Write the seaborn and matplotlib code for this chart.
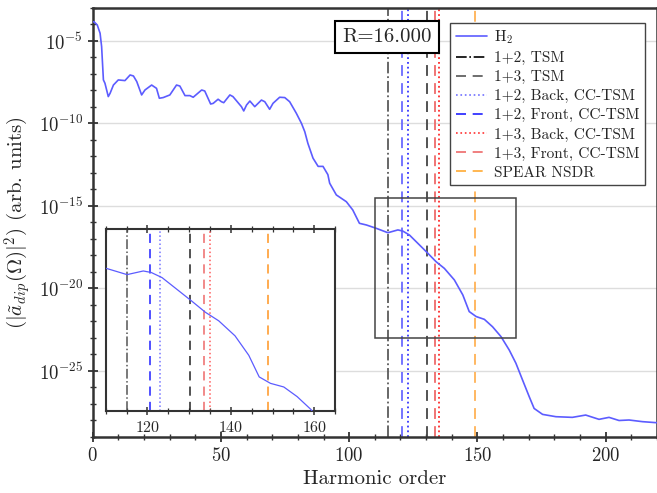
import numpy as np
import pandas as pd
import matplotlib
matplotlib.use("Agg")
import matplotlib.pyplot as plt
import seaborn as sns
from matplotlib.ticker import FixedLocator, MultipleLocator, LogFormatterMathtext, NullFormatter, NullLocator
from matplotlib.patches import Rectangle

# ---------------- data ----------------
harmonic = [0.0, 0.5, 1.8, 2.9, 3.5, 4.2, 4.8, 6.1, 6.8, 8.1, 10.0, 12.6, 14.6, 15.9, 17.2,
            19.1, 20.4, 23.0, 24.9, 26.0, 27.5, 30.1, 32.7, 34.0, 36.0, 37.9, 39.2, 42.5,
            43.7, 46.0, 47.0, 48.9, 50.2, 51.1, 53.5, 54.7, 58.0, 58.9, 60.0, 61.3, 63.2,
            65.8, 67.1, 69.0, 70.3, 72.9, 74.9, 76.8, 79.4, 81.4, 82.7, 83.9, 85.9, 87.9,
            89.8, 91.7, 92.4, 95.0, 98.9, 101.4, 104.0, 106.7, 110.5, 115.1, 119.0, 120.9,
            123.5, 127.4, 130.7, 133.9, 137.1, 141.0, 144.3, 146.8, 149.5, 152.7, 155.9,
            159.2, 162.4, 165.0, 167.6, 170.2, 172.1, 175.4, 180.6, 187.0, 192.2, 197.4,
            201.3, 205.2, 209.1, 214.3, 219.5, 220.0]
log10_intensity = [-3.85, -3.83, -4.03, -4.53, -5.34, -7.36, -7.56, -8.37, -8.17, -7.67, -7.36,
                   -7.40, -7.06, -7.12, -7.46, -8.27, -7.97, -7.67, -7.87, -8.47, -8.43, -8.27,
                   -7.67, -7.73, -8.31, -8.31, -8.41, -7.97, -8.03, -8.82, -8.78, -8.53, -8.68,
                   -8.74, -8.27, -8.37, -8.98, -9.24, -8.88, -8.64, -8.98, -8.58, -8.68, -9.14,
                   -8.78, -8.41, -8.43, -8.68, -9.38, -9.99, -10.5, -11.2, -12.1, -12.6, -12.6,
                   -13.1, -13.62, -14.33, -14.74, -15.24, -16.05, -16.15, -16.35, -16.62, -16.45,
                   -16.52, -16.76, -17.36, -17.87, -18.38, -18.78, -19.48, -20.39, -21.4, -21.7,
                   -21.87, -22.32, -22.92, -23.73, -24.53, -25.55, -26.56, -27.27, -27.63, -27.77,
                   -27.81, -27.67, -27.93, -27.81, -28.0, -27.97, -28.07, -28.13, -28.13]

line_labels = ["1+2, TSM", "1+3, TSM", "1+2, Back, CC-TSM", "1+2, Front, CC-TSM",
               "1+3, Back, CC-TSM", "1+3, Front, CC-TSM", "SPEAR NSDR"]
line_positions = [115.1, 130.2, 123.1, 120.6, 135.1, 133.5, 149.0]
line_colors = ["#5a5a5a", "#444444", "#3535ff", "#6a6aff", "#ff2a2a", "#ee6a6a", "#ffb255"]
inset_colors = ["#555555", "#222222", "#7575ff", "#2020ff", "#ff5a5a", "#ee6a6a", "#ff9420"]
legend_colors = ["black", "#555555", "#7070ff", "#2020ff", "#ff3030", "#ee6a6a", "#ffaa33"]
line_styles = ["-.", (0, (6, 4)), ":", (0, (6, 4)), ":", (0, (6, 4)), (0, (6, 4))]

df = pd.DataFrame({"harmonic": harmonic,
                   "intensity": [10.0 ** v for v in log10_intensity]})

# ---------------- style ----------------
sns.set_theme(style="white")
plt.rcParams.update({
    "font.family": "serif",
    "font.serif": ["cmr10", "DejaVu Serif"],
    "mathtext.fontset": "cm",
    "axes.formatter.use_mathtext": True,
    "axes.unicode_minus": False,
})

fig = plt.figure(figsize=(6.57, 4.93), dpi=100)
ax = fig.add_axes([0.141, 0.1136, 0.859, 0.8702])

h2_color = "#5c5cff"
sns.lineplot(data=df, x="harmonic", y="intensity", ax=ax, color=h2_color, lw=1.2,
             label="H$_2$", zorder=3)
ax.set_yscale("log")
ax.set_xlim(0, 220)
ax.set_ylim(1e-29, 1e-3)

for pos, col, ls in zip(line_positions, line_colors, line_styles):
    ax.axvline(pos, color=col, ls=ls, lw=1.3, zorder=2)

ax.yaxis.set_major_locator(FixedLocator([1e-25, 1e-20, 1e-15, 1e-10, 1e-5]))
ax.yaxis.set_major_formatter(LogFormatterMathtext())
ax.yaxis.set_minor_locator(FixedLocator([10.0 ** k for k in range(-29, -2)]))
ax.yaxis.set_minor_formatter(NullFormatter())
ax.xaxis.set_major_locator(MultipleLocator(50))
ax.xaxis.set_minor_locator(MultipleLocator(10))
ax.tick_params(axis="both", which="major", direction="inout", length=7, width=1.3,
               color="#333333", labelsize=13.5, left=True, bottom=True)
ax.tick_params(axis="both", which="minor", direction="inout", length=4, width=1.0,
               color="#333333", left=True, bottom=True)
ax.grid(True, axis="y", which="major", color="#dddddd", lw=1.0)
ax.grid(False, axis="x")
for sp in ax.spines.values():
    sp.set_color("#333333")
    sp.set_linewidth(1.8)

ax.set_xlabel("Harmonic order", fontsize=15)
ax.set_ylabel(r"$(|\tilde{a}_{dip}(\Omega)|^2)$ (arb. units)", fontsize=15)

# zoom rectangle
ax.add_patch(Rectangle((110, 10 ** -23), 55, 10 ** -14.5 - 10 ** -23, fill=False,
                       ec="#444444", lw=1.1, zorder=4))

# legend
handles = [plt.Line2D([], [], color=h2_color, lw=1.2)]
for col, ls in zip(legend_colors, line_styles):
    handles.append(plt.Line2D([], [], color=col, ls=ls, lw=1.2))
leg = ax.legend(handles, ["H$_2$"] + line_labels, loc="upper right",
                bbox_to_anchor=(0.979, 0.965), borderaxespad=0, fontsize=11.1,
                frameon=True, fancybox=False, framealpha=1, edgecolor="#444444",
                labelspacing=0.33, handlelength=2.0, handletextpad=0.5, borderpad=0.35)
leg.get_frame().set_linewidth(1.0)
leg.set_zorder(10)

ax.text(0.5216, 0.932, "R=16.000", transform=ax.transAxes, ha="center", va="center",
        fontsize=15, zorder=11,
        bbox=dict(boxstyle="square,pad=0.35", fc="white", ec="black", lw=1.5))

# inset
axin = fig.add_axes([0.161, 0.166, 0.349, 0.369])
sns.lineplot(data=df, x="harmonic", y="intensity", ax=axin, color=h2_color, lw=0.9,
             legend=False, zorder=3)
axin.set_yscale("log")
axin.set_xlim(110, 165)
axin.set_ylim(10 ** -23, 10 ** -14.5)
for pos, col, ls in zip(line_positions, inset_colors, line_styles):
    axin.axvline(pos, color=col, ls=ls, lw=1.1, zorder=2)
axin.set_xlabel("")
axin.set_ylabel("")
axin.yaxis.set_major_locator(NullLocator())
axin.yaxis.set_minor_locator(NullLocator())
axin.xaxis.set_major_locator(MultipleLocator(20))
axin.xaxis.set_minor_locator(MultipleLocator(5))
axin.tick_params(axis="x", which="major", direction="inout", length=6, width=1.1,
                 color="#333333", labelsize=11.5, top=True, bottom=True)
axin.tick_params(axis="x", which="minor", direction="inout", length=4, width=0.9,
                 color="#333333", top=True, bottom=True)
axin.grid(False)
for sp in axin.spines.values():
    sp.set_color("#333333")
    sp.set_linewidth(1.5)

fig.savefig("out.png", dpi=100)
